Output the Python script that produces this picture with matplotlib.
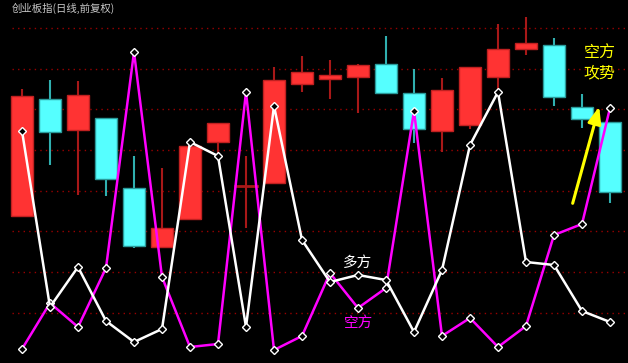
import matplotlib
matplotlib.use("Agg")
import matplotlib.pyplot as plt
from matplotlib.patches import Rectangle

plt.rcParams['font.family'] = ['Noto Sans CJK SC', 'DejaVu Sans']

# Candles (values measured as height above the bottom of the chart)
opens  = [147, 264, 233, 245, 175, 116, 144, 221, 177, 180, 279, 284, 286, 299, 270, 232, 238, 286, 314, 318, 256, 241]
highs  = [274, 283, 282, 245, 207, 195, 217, 240, 207, 296, 307, 303, 299, 327, 294, 285, 296, 339, 346, 325, 269, 241]
lows   = [147, 198, 168, 167, 115, 116, 144, 207, 135, 180, 271, 264, 250, 270, 220, 211, 234, 273, 308, 257, 235, 160]
closes = [267, 231, 268, 184, 117, 135, 217, 240, 178, 283, 291, 288, 298, 270, 234, 273, 296, 314, 320, 266, 244, 171]

# Indicator lines
duofang  = [232, 56, 96, 42, 21, 34, 221, 207, 36, 257, 123, 81, 88, 83, 31, 93, 218, 271, 101, 98, 52, 41]
kongfang = [14, 60, 36, 95, 311, 86, 16, 19, 271, 13, 27, 90, 55, 75, 252, 27, 45, 16, 37, 128, 139, 255]

grid_levels = [335, 294, 254, 213, 172, 132, 91, 50]

title = "创业板指(日线,前复权)"

W, H = 628, 363
fig = plt.figure(figsize=(W / 100, H / 100), dpi=100, facecolor='black')
ax = fig.add_axes([0, 0, 1, 1])
ax.set_facecolor('black')
ax.set_xlim(-22 / 28, (W - 22) / 28)
ax.set_ylim(0, H)
ax.axis('off')

for g in grid_levels:
    ax.axhline(g, xmin=12 / W, xmax=1, color='#990000', lw=1.0,
               linestyle=(0, (1, 3)), zorder=1)

body_w = 0.76
for i, (o, h, l, c) in enumerate(zip(opens, highs, lows, closes)):
    up = c >= o
    if up:
        face, edge, wick = '#ff3333', '#c02020', '#a81818'
    else:
        face, edge, wick = '#55ffff', '#2a9a9a', '#30b0b0'
    ax.plot([i, i], [l, h], color=wick, lw=1.5, zorder=2, solid_capstyle='butt')
    bot = min(o, c)
    ht = abs(c - o)
    if ht < 2:
        ax.plot([i - body_w / 2, i + body_w / 2], [o, o], color=wick, lw=2, zorder=3)
    else:
        ax.add_patch(Rectangle((i - body_w / 2, bot), body_w, ht, facecolor=face,
                               edgecolor=edge, lw=1, zorder=3))

x = list(range(len(duofang)))
ax.plot(x, duofang, color='white', lw=1.8, zorder=5, marker='D', markersize=4.5,
        markerfacecolor='black', markeredgecolor='white', markeredgewidth=1)
ax.plot(x, kongfang, color='#ff00ff', lw=1.8, zorder=4, marker='D', markersize=4.5,
        markerfacecolor='black', markeredgecolor='white', markeredgewidth=1)

ax.text(12 / 28 - 22 / 28, H - 8, title, color='#c8c8c8', fontsize=7.5,
        ha='left', va='center', zorder=6)

ax.text(12, 100, "多方", color='white', fontsize=10.5, ha='center', va='center', zorder=6)
ax.text(12, 40, "空方", color='#ff00ff', fontsize=10.5, ha='center', va='center', zorder=6)
ax.text(20.64, 310, "空方", color='#ffff00', fontsize=11.5, ha='center', va='center', zorder=6)
ax.text(20.64, 290, "攻势", color='#ffff00', fontsize=11.5, ha='center', va='center', zorder=6)

ax.annotate("", xy=(20.64, 259), xytext=(19.64, 157),
            arrowprops=dict(arrowstyle='-|>,head_width=0.4,head_length=1.0',
                            color='#ffff00', lw=2.2), zorder=6)

fig.savefig("out.png", dpi=100, facecolor='black')
